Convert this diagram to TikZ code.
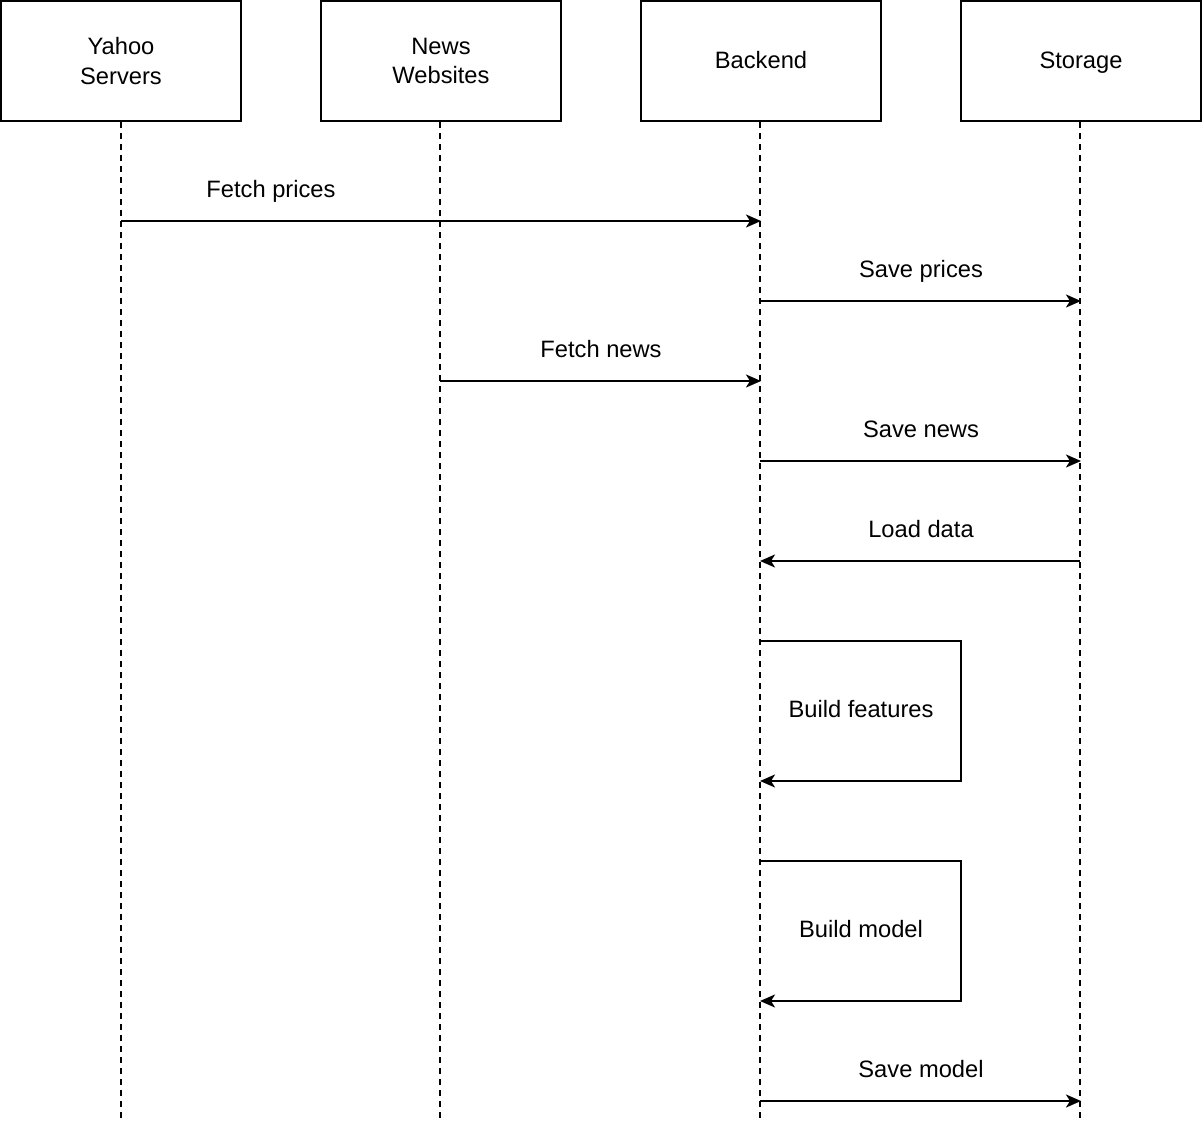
\documentclass[tikz,border=0pt]{standalone}
\usepackage{fontspec}
\setmainfont{Liberation Sans}
\usetikzlibrary{arrows.meta}
\begin{document}
\begin{tikzpicture}[x=1pt,y=-1pt,
  actor/.style={draw,line width=2pt,minimum width=240pt,minimum height=120pt,align=center,inner sep=0pt,font=\fontsize{23.7}{29.5}\selectfont},
  oneline/.style={text height=17pt,text depth=3pt},
  lifeline/.style={line width=1.6pt,dash pattern=on 6pt off 5pt},
  msg/.style={line width=2pt,-{Stealth[length=15pt,width=13pt,inset=4pt]}},
  lbl/.style={font=\fontsize{23.7}{29}\selectfont,inner sep=0pt,text height=17pt,text depth=3pt}]
\useasboundingbox (0,0) rectangle (1202,1124);
\node[actor] (yahoo) at (121,61) {Yahoo\\Servers};
\node[actor] (news) at (441,61) {News\\Websites};
\node[actor,oneline] (backend) at (761,61) {Backend};
\node[actor,oneline] (storage) at (1081,61) {Storage};
\coordinate (yE) at (121,1121);
\coordinate (nE) at (440,1121);
\coordinate (bE) at (760,1121);
\coordinate (sE) at (1080,1121);
\draw[lifeline] (121,122) -- (yE);
\draw[lifeline] (440,122) -- (nE);
\draw[lifeline] (760,122) -- (bE);
\draw[lifeline] (1080,122) -- (sE);
% points on lifelines
\coordinate (y1) at (121,221); \coordinate (b1) at (761,221);
\coordinate (b2) at (760,301); \coordinate (s2) at (1081,301);
\coordinate (n3) at (440,381); \coordinate (b3) at (761,381);
\coordinate (b4) at (760,461); \coordinate (s4) at (1081,461);
\coordinate (s5) at (1080,561); \coordinate (b5) at (760,561);
\coordinate (b6) at (760,641); \coordinate (c6) at (961,641); \coordinate (d6) at (961,781); \coordinate (e6) at (760,781);
\coordinate (b7) at (760,861); \coordinate (c7) at (961,861); \coordinate (d7) at (961,1001); \coordinate (e7) at (760,1001);
\coordinate (b8) at (760,1101); \coordinate (s8) at (1081,1101);
\draw[msg] (y1) -- (b1);
\draw[msg] (b2) -- (s2);
\draw[msg] (n3) -- (b3);
\draw[msg] (b4) -- (s4);
\draw[msg] (s5) -- (b5);
\draw[msg] (b6) -- (c6) -- (d6) -- (e6);
\draw[msg] (b7) -- (c7) -- (d7) -- (e7);
\draw[msg] (b8) -- (s8);
\node[lbl] (l1) at (271,190) {Fetch prices};
\node[lbl] (l2) at (921,270) {Save prices};
\node[lbl] (l3) at (601,350) {Fetch news};
\node[lbl] (l4) at (921,430) {Save news};
\node[lbl] (l5) at (921,530) {Load data};
\node[lbl] (l6) at (861,710) {Build features};
\node[lbl] (l7) at (861,930) {Build model};
\node[lbl] (l8) at (921,1070) {Save model};
\end{tikzpicture}
\end{document}
